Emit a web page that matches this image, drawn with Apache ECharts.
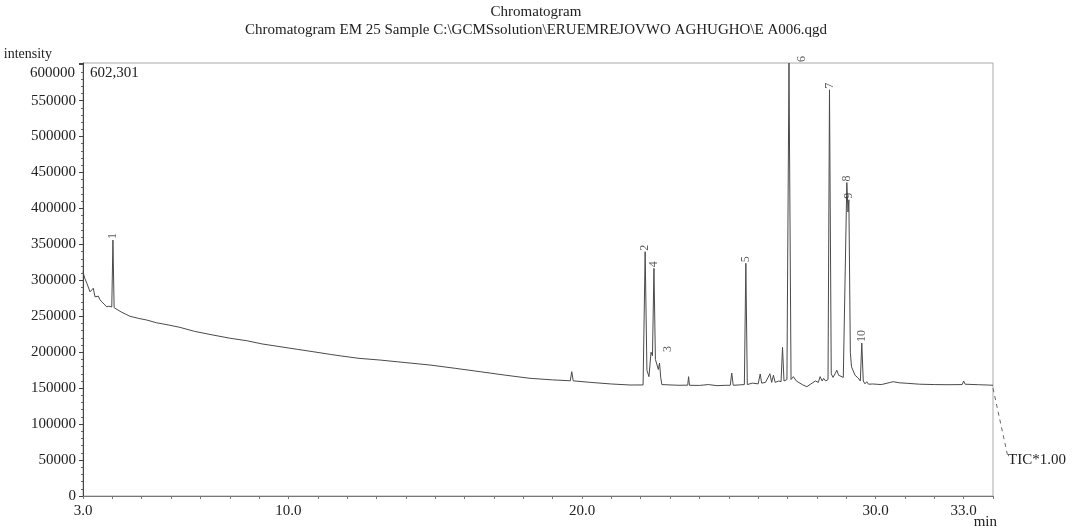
<!DOCTYPE html>
<html><head><meta charset="utf-8">
<script src="https://cdn.jsdelivr.net/npm/echarts@6/dist/echarts.min.js"></script>
<style>html,body{margin:0;padding:0;background:#fff}#c{width:1072px;height:529px}</style>
</head><body><div id="c"></div>
<script>
// Retention time (min) and TIC intensity
const retentionTimes = [
  3.00,3.06,3.13,3.24,3.30,3.35,3.41,3.47,3.52,3.58,3.64,3.72,3.81,3.88,3.92,3.98,4.02,4.06,4.09,
  4.30,4.60,4.90,5.17,5.50,5.90,6.30,6.80,7.43,8.00,8.58,9.10,9.71,10.30,10.84,11.42,11.76,12.40,
  13.12,14.00,14.82,15.70,16.53,17.40,18.23,19.00,19.60,19.65,19.70,20.30,21.00,21.64,22.08,22.15,
  22.21,22.28,22.35,22.40,22.45,22.50,22.55,22.60,22.64,22.68,22.72,23.00,23.30,23.60,23.63,23.66,
  24.00,24.30,24.60,24.90,25.05,25.10,25.15,25.35,25.53,25.58,25.63,25.80,26.00,26.07,26.12,26.25,
  26.40,26.46,26.52,26.58,26.70,26.78,26.83,26.88,26.98,27.05,27.12,27.20,27.30,27.50,27.66,27.80,
  27.95,28.05,28.11,28.18,28.23,28.30,28.38,28.43,28.49,28.55,28.62,28.68,28.74,28.79,28.90,28.96,
  29.02,29.06,29.09,29.14,29.18,29.30,29.41,29.48,29.53,29.58,29.64,29.70,29.76,29.90,30.20,30.50,
  30.60,30.80,31.10,31.50,32.00,32.50,32.95,33.00,33.05,33.50,33.80,34.00
];
const intensities = [
  312000,303000,296000,284000,285000,289000,277000,279000,278000,273000,270000,267000,263000,264000,265600,263000,356000,262000,263000,
  256000,250000,247000,244800,241000,238000,234600,229000,223900,219500,216000,211500,207700,204000,200700,197000,195000,191500,
  189100,185500,182200,177500,172900,168000,163700,161500,160300,173000,160200,158000,155800,154400,154500,339800,
  175000,166000,200000,195000,316700,190000,189000,176000,185000,165000,155000,154500,154000,154200,166000,154000,
  153800,155000,153500,154000,154000,171000,154000,154500,155000,323700,155000,157000,156000,169700,157000,158000,
  170000,158000,168000,158000,160000,159000,206800,160000,162000,602301,162000,166000,160000,155000,152000,156000,
  160000,158000,166000,160000,163700,160000,162000,565000,170000,165000,170000,175000,168000,166000,165000,164000,
  436000,395000,412000,200000,179800,168000,164000,160000,212800,160000,156000,159000,155500,155800,155000,158000,
  159000,157500,156700,155500,155000,154800,155000,160000,155500,154800,154400,154000
];
// Numbered peaks
const peakNumbers = ['1','2','3','4','5','6','7','8','9','10'];
const peakTimes   = [4.02,22.15,22.64,22.45,25.58,27.05,28.43,29.02,29.09,29.53];
// Axis ticks
const xTickLabels = [3.0, 10.0, 20.0, 30.0, 33.0];
const yTickStep = 50000;
const xMin = 3, xMax = 34;

const FONT = 'Liberation Serif';
const maxIntensity = Math.max(...intensities);
const seriesData = retentionTimes.map((t, i) => [t, intensities[i]]);

// label offsets are given in the rotated label frame: [-screenDy, screenDx]
const labelOffsets = { '3': [10, 8], '6': [0, 13] };
const peakData = peakNumbers.map((n, i) => {
  const idx = retentionTimes.indexOf(peakTimes[i]);
  const item = { value: [peakTimes[i], intensities[idx]], name: n };
  if (labelOffsets[n]) item.label = { offset: labelOffsets[n] };
  return item;
});

const chart = echarts.init(document.getElementById('c'), null, { renderer: 'canvas' });
chart.setOption({
  animation: false,
  backgroundColor: '#fff',
  title: {
    text: 'Chromatogram',
    subtext: 'Chromatogram EM 25 Sample C:\\GCMSsolution\\ERUEMREJOVWO AGHUGHO\\E A006.qgd',
    left: 'center', top: 0, itemGap: 3,
    textStyle: { fontFamily: FONT, fontSize: 15, fontWeight: 'normal', color: '#222' },
    subtextStyle: { fontFamily: FONT, fontSize: 15, color: '#222' }
  },
  grid: { left: 83, right: 79, top: 63, bottom: 33, show: true, borderColor: '#aaa', borderWidth: 1 },
  xAxis: {
    type: 'value', min: xMin, max: xMax, interval: 1,
    axisLine: { lineStyle: { color: '#777', width: 1 } },
    axisTick: { show: true, length: 3, lineStyle: { color: '#777' } },
    splitLine: { show: false },
    axisLabel: {
      fontFamily: FONT, fontSize: 15, color: '#222', margin: 8,
      formatter: v => xTickLabels.some(t => Math.abs(t - v) < 1e-6) ? v.toFixed(1) : ''
    }
  },
  yAxis: {
    type: 'value', min: 0, max: maxIntensity, interval: yTickStep,
    axisLine: { show: true, lineStyle: { color: '#444', width: 1 } },
    axisTick: { show: true, length: 4, lineStyle: { color: '#444' } },
    minorTick: { show: true, splitNumber: 5, length: 2, lineStyle: { color: '#666' } },
    splitLine: { show: false },
    axisLabel: { fontFamily: FONT, fontSize: 15, color: '#222', margin: 7,
      showMaxLabel: false,
      formatter: v => (v >= 600000 ? '' : String(v)) }
  },
  series: [
    {
      type: 'line', data: seriesData, showSymbol: false, symbol: 'none',
      lineStyle: { color: '#4a4a4a', width: 1 }, clip: true, z: 2
    },
    {
      type: 'scatter', data: peakData, symbolSize: 0, silent: true, z: 3,
      label: {
        show: true, position: 'top', distance: 1, rotate: 90,
        align: 'left', verticalAlign: 'middle',
        formatter: p => p.name,
        fontFamily: FONT, fontSize: 12, color: '#333'
      }
    }
  ]
});

// Annotations placed from chart coordinates
const lastPt = chart.convertToPixel({ gridIndex: 0 }, [retentionTimes[retentionTimes.length - 1], intensities[intensities.length - 1]]);
const topLeft = chart.convertToPixel({ gridIndex: 0 }, [xMin, maxIntensity]);
const y600 = chart.convertToPixel({ gridIndex: 0 }, [xMin, 600000]);
const bottomRight = chart.convertToPixel({ gridIndex: 0 }, [xMax, 0]);
chart.setOption({
  graphic: [
    { type: 'text', left: topLeft[0] + 7, top: topLeft[1] + 3,
      style: { text: maxIntensity.toLocaleString('en-US'), fontFamily: FONT, fontSize: 15, fill: '#222' } },
    { type: 'text', x: topLeft[0] - 8, y: y600[1] + 1,
      style: { text: '600000', fontFamily: FONT, fontSize: 15, fill: '#222', align: 'right' } },
    { type: 'text', x: topLeft[0] - 31, y: topLeft[1] - 16,
      style: { text: 'intensity', fontFamily: FONT, fontSize: 14, fill: '#222', align: 'right' } },
    { type: 'text', x: bottomRight[0] + 4, y: bottomRight[1] + 19,
      style: { text: 'min', fontFamily: FONT, fontSize: 15, fill: '#222', align: 'right' } },
    { type: 'line', shape: { x1: lastPt[0], y1: lastPt[1] + 3, x2: lastPt[0] + 15, y2: lastPt[1] + 72 },
      style: { stroke: '#666', lineWidth: 1, lineDash: [4, 4] } },
    { type: 'text', left: lastPt[0] + 15, top: lastPt[1] + 67,
      style: { text: 'TIC*1.00', fontFamily: FONT, fontSize: 15, fill: '#222' } }
  ]
});
</script>
</body></html>
